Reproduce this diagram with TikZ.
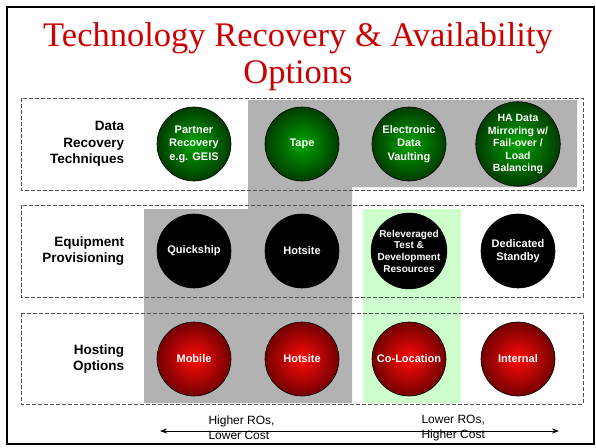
\documentclass[tikz,border=0pt]{standalone}
\usepackage{fontspec}
\setmainfont{Liberation Sans}
\newfontfamily\titlefont{Liberation Serif}
\usetikzlibrary{positioning,arrows.meta}

\definecolor{titlered}{RGB}{204,0,0}
\definecolor{shadegray}{RGB}{178,178,178}
\definecolor{shadegreen}{RGB}{204,255,204}
\definecolor{dashgray}{RGB}{80,80,80}
\definecolor{greenin}{RGB}{0,165,0}
\definecolor{greenout}{RGB}{0,60,0}
\definecolor{redin}{RGB}{255,10,10}
\definecolor{redout}{RGB}{115,0,0}

\tikzset{
  rowbox/.style={draw=dashgray, line width=1pt, dash pattern=on 4pt off 2pt},
  rowlabel/.style={align=right, font=\bfseries\fontsize{13.5}{16.5}\selectfont},
  option/.style={circle, draw=black, line width=0.6pt, minimum size=74pt, inner sep=0pt,
    align=center, text=white, font=\bfseries\fontsize{11}{13.5}\selectfont},
  dataopt/.style={option, inner color=greenin, outer color=greenout},
  equipopt/.style={option, fill=black},
  hostopt/.style={option, inner color=redin, outer color=redout},
  costlabel/.style={anchor=west, align=left, font=\fontsize{12}{15}\selectfont}
}

\begin{document}
\begin{tikzpicture}[x=1pt, y=-1pt]
    \useasboundingbox (0,0) rectangle (596,447);

    % Frame and title
    \draw[line width=2.5pt] (7,7) rectangle (594,444);
    \node[text=titlered, align=center, font=\titlefont\fontsize{34.5}{37}\selectfont] (title) at (298,57)
        {Technology Recovery \& Availability\\Options};

    % Shaded zones
    \fill[shadegray] (248,100) -- (577,100) -- (577,187) -- (352,187) -- (352,403)
        -- (144,403) -- (144,209) -- (248,209) -- cycle;
    \fill[shadegreen] (363,209) rectangle (461,403);

    % Rows
    \draw[rowbox] (21,98) rectangle (583,190);
    \draw[rowbox] (21,205) rectangle (583,297);
    \draw[rowbox] (21,313) rectangle (583,404);

    % Nodes
    \node[dataopt] (partner) at (194,144) {Partner\\Recovery\\e.g. GEIS};
    \node[dataopt] (tape) at (302,144) {Tape};
    \node[dataopt] (vaulting) at (409,144) {Electronic\\Data\\Vaulting};
    \node[dataopt, font=\bfseries\fontsize{10.5}{12.5}\selectfont] (mirroring) at (518,144)
        {HA Data\\Mirroring w/\\Fail-over /\\Load\\Balancing};

    \node[equipopt] (quickship) at (194,251) {Quickship};
    \node[equipopt] (hotsiteeq) at (302,251) {Hotsite};
    \node[equipopt, font=\bfseries\fontsize{10}{11.7}\selectfont] (releveraged) at (409,251)
        {Releveraged\\Test \&\\Development\\Resources};
    \node[equipopt] (standby) at (518,251) {Dedicated\\Standby};

    \node[hostopt] (mobile) at (194,359) {Mobile};
    \node[hostopt] (hotsitehost) at (302,359) {Hotsite};
    \node[hostopt] (colocation) at (409,359) {Co-Location};
    \node[hostopt] (internal) at (518,359) {Internal};

    \node[rowlabel, left=29pt of partner] (datalabel) {Data\\Recovery\\Techniques};
    \node[rowlabel, left=29pt of quickship] (equiplabel) {Equipment\\Provisioning};
    \node[rowlabel, left=29pt of mobile] (hostlabel) {Hosting\\Options};

    % Cost scale
    \coordinate (scaleleft) at (160,431);
    \coordinate (scaleright) at (559,431);
    \draw[line width=0.8pt, {Stealth[length=7pt,width=5pt]}-{Stealth[length=7pt,width=5pt]}] (scaleleft) -- (scaleright);
    \node[costlabel] (higher) at (205,428) {Higher ROs,\\Lower Cost};
    \node[costlabel] (lower) at (418,428) {Lower ROs,\\Higher Cost};
\end{tikzpicture}
\end{document}
